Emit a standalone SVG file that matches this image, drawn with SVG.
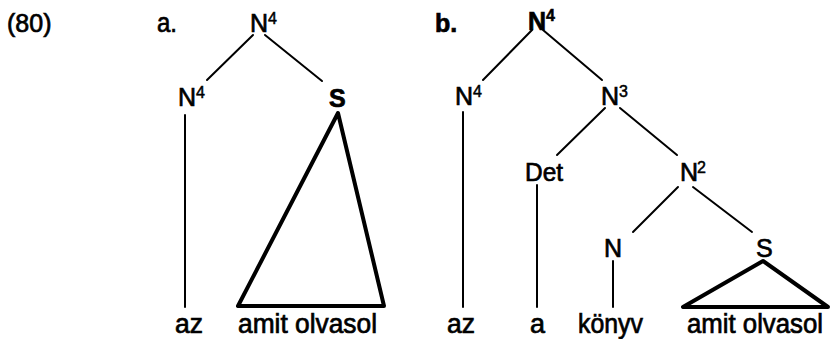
<svg xmlns="http://www.w3.org/2000/svg" width="830" height="339" viewBox="0 0 830 339">
<style>
text{font-family:"Liberation Sans",Arial,sans-serif;fill:#000;stroke:#000;stroke-width:0.7}
.lab{font-size:25px}
.w{font-size:27px}
.sup{font-size:16px;stroke-width:0.5}
.b{font-weight:bold}
.e{stroke:#000;stroke-width:2;stroke-linecap:round;fill:none}
.tri{stroke:#000;stroke-width:4;stroke-linejoin:round;fill:none}
</style>
<rect width="830" height="339" fill="#fff"/>
<text class="lab" x="7" y="32">(80)</text>
<g id="connectors">
<line class="e" x1="253" y1="35" x2="207" y2="80"/>
<line class="e" x1="265" y1="35" x2="322" y2="81"/>
<line class="e" x1="185" y1="115" x2="185" y2="307"/>
<polygon class="tri" points="338,113 238,306 384,306"/>
<line class="e" x1="532" y1="30" x2="483" y2="80"/>
<line class="e" x1="543" y1="30" x2="602" y2="80"/>
<line class="e" x1="463" y1="112" x2="463" y2="307"/>
<line class="e" x1="605" y1="108" x2="557" y2="155"/>
<line class="e" x1="620" y1="108" x2="677" y2="155"/>
<line class="e" x1="537" y1="185" x2="537" y2="307"/>
<line class="e" x1="678" y1="187" x2="633" y2="232"/>
<line class="e" x1="693" y1="187" x2="752" y2="232"/>
<line class="e" x1="613" y1="261" x2="613" y2="307"/>
<polygon class="tri" points="763,261 683,307 828,307"/>
</g>
<g id="label-a"><text class="w" x="157" y="32" textLength="20" lengthAdjust="spacingAndGlyphs">a.</text></g>
<g id="a-N4-top"><text class="lab" x="250" y="32">N</text><text class="sup" x="268" y="24">4</text></g>
<g id="a-N4-left"><text class="lab" x="178" y="106">N</text><text class="sup" x="196" y="98">4</text></g>
<g id="a-S"><text class="lab b" x="329" y="107">S</text></g>
<g id="a-az"><text class="w" x="175" y="333" textLength="28" lengthAdjust="spacingAndGlyphs">az</text></g>
<g id="a-amit"><text class="w" x="238" y="333" textLength="139" lengthAdjust="spacingAndGlyphs">amit olvasol</text></g>
<g id="label-b"><text class="lab b" x="435" y="32">b.</text></g>
<g id="b-N4-top"><text class="lab b" x="528" y="30">N</text><text class="sup b" x="546" y="21">4</text></g>
<g id="b-N4-left"><text class="lab" x="455" y="105">N</text><text class="sup" x="473" y="97">4</text></g>
<g id="b-N3"><text class="lab" x="601" y="105">N</text><text class="sup" x="619" y="97">3</text></g>
<g id="b-Det"><text class="lab" x="525" y="181" textLength="38" lengthAdjust="spacingAndGlyphs">Det</text></g>
<g id="b-N2"><text class="lab" x="680" y="181">N</text><text class="sup" x="697" y="173">2</text></g>
<g id="b-N"><text class="lab" x="604" y="257">N</text></g>
<g id="b-S"><text class="lab" x="756" y="257">S</text></g>
<g id="b-az"><text class="w" x="447" y="333" textLength="28" lengthAdjust="spacingAndGlyphs">az</text></g>
<g id="b-a"><text class="w" x="530" y="333" textLength="15" lengthAdjust="spacingAndGlyphs">a</text></g>
<g id="b-konyv"><text class="w" x="578" y="333" textLength="65" lengthAdjust="spacingAndGlyphs">könyv</text></g>
<g id="b-amit"><text class="w" x="687" y="333" textLength="136" lengthAdjust="spacingAndGlyphs">amit olvasol</text></g>
</svg>
